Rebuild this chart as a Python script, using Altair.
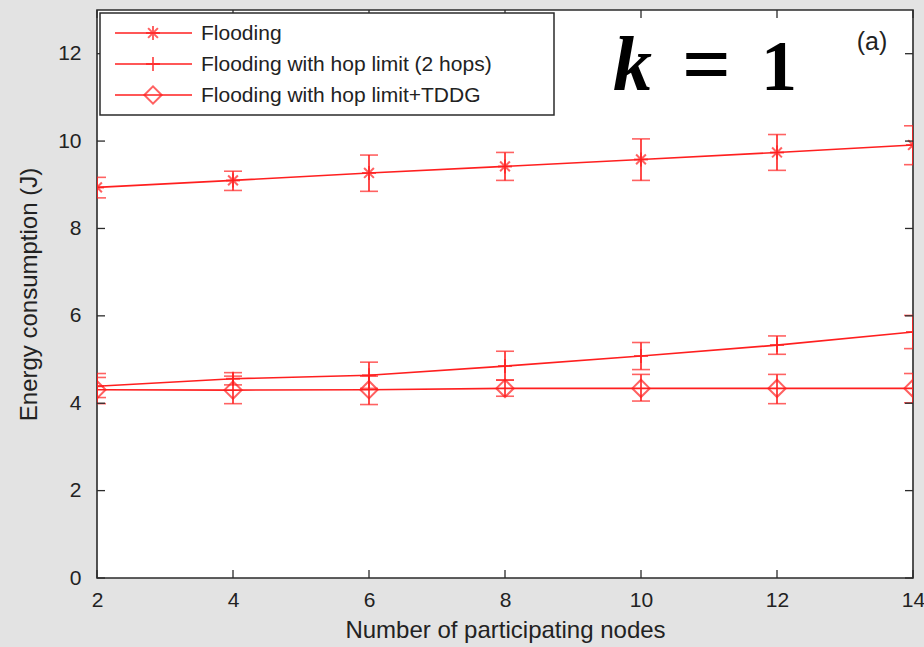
import altair as alt
import pandas as pd

# Number of participating nodes
nodes = [2, 4, 6, 8, 10, 12, 14]

# Energy consumption (J): mean with lower/upper error bounds
flood_mean = [8.94, 9.10, 9.27, 9.42, 9.58, 9.74, 9.91]
flood_low = [8.70, 8.87, 8.85, 9.10, 9.10, 9.33, 9.46]
flood_high = [9.17, 9.31, 9.68, 9.74, 10.05, 10.15, 10.35]

hop_mean = [4.39, 4.56, 4.64, 4.85, 5.08, 5.33, 5.63]
hop_low = [4.13, 4.42, 4.34, 4.53, 4.77, 5.12, 5.25]
hop_high = [4.68, 4.70, 4.94, 5.19, 5.39, 5.54, 6.01]

tddg_mean = [4.31, 4.30, 4.31, 4.34, 4.34, 4.34, 4.34]
tddg_low = [3.99, 3.99, 3.97, 4.16, 4.05, 3.99, 4.01]
tddg_high = [4.59, 4.62, 4.62, 4.53, 4.66, 4.66, 4.68]

series_names = [
    "Flooding",
    "Flooding with hop limit (2 hops)",
    "Flooding with hop limit+TDDG",
]

x_ticks = [2, 4, 6, 8, 10, 12, 14]
y_ticks = [0, 2, 4, 6, 8, 10, 12]

# ---- layout / style ----
W, H = 816, 568
RED = "#ff1f1f"
FRAME = "#2b2b2b"
FONT = "Liberation Sans"
ASTERISK = "M-1,0L1,0M0,-1L0,1M-0.7,-0.7L0.7,0.7M-0.7,0.7L0.7,-0.7"
PLUS = "M-1,0L1,0M0,-1L0,1"

frames = []
for name, m, lo, hi in [
    (series_names[0], flood_mean, flood_low, flood_high),
    (series_names[1], hop_mean, hop_low, hop_high),
    (series_names[2], tddg_mean, tddg_low, tddg_high),
]:
    frames.append(pd.DataFrame({"nodes": nodes, "series": name,
                                "mean": m, "low": lo, "high": hi}))
df = pd.concat(frames, ignore_index=True)

xscale = alt.Scale(domain=[2, 14], nice=False, zero=False)
yscale = alt.Scale(domain=[0, 13], nice=False)

X = alt.X("nodes:Q", scale=xscale,
          axis=alt.Axis(values=x_ticks, format="d", tickSize=0, domain=False,
                        grid=False, labelFlush=False, labelOverlap=False,
                        labelBound=False, labelPadding=11, labelFontSize=21,
                        labelFont=FONT, labelColor="#222",
                        title="Number of participating nodes", titleFont=FONT,
                        titleFontSize=24, titleFontWeight="normal",
                        titleColor="#222", titlePadding=8))
Y = alt.Y("mean:Q", scale=yscale,
          axis=alt.Axis(values=y_ticks, format="d", tickSize=0, domain=False,
                        grid=False, labelOverlap=False, labelBound=False,
                        labelPadding=16, labelFontSize=21, labelFont=FONT,
                        labelColor="#222", title="Energy consumption (J)",
                        titleFont=FONT, titleFontSize=24,
                        titleFontWeight="normal", titleColor="#222",
                        titlePadding=16))

base = alt.Chart(df)

lines = base.mark_line(color=RED, strokeWidth=1.6, clip=True).encode(
    x=X, y=Y, detail="series:N")

bars = base.mark_rule(color=RED, strokeWidth=1.6, clip=True).encode(
    x="nodes:Q", y=alt.Y("low:Q", scale=yscale), y2="high:Q")
caps_lo = base.mark_tick(color=RED, thickness=1.6, size=18, orient="horizontal",
                         clip=True).encode(x="nodes:Q", y=alt.Y("low:Q", scale=yscale))
caps_hi = base.mark_tick(color=RED, thickness=1.6, size=18, orient="horizontal",
                         clip=True).encode(x="nodes:Q", y=alt.Y("high:Q", scale=yscale))

def markers(name, shape, size):
    return alt.Chart(df[df.series == name]).mark_point(
        shape=shape, size=size, filled=False, color=RED, strokeWidth=2, clip=True
    ).encode(x="nodes:Q", y=alt.Y("mean:Q", scale=yscale))

m_flood = markers(series_names[0], ASTERISK, 196)
m_hop = markers(series_names[1], PLUS, 196)
m_tddg = markers(series_names[2], "diamond", 300)

# inward tick marks on all four sides of the box
xt = pd.DataFrame({"t": x_ticks})
yt = pd.DataFrame({"t": y_ticks})
tick_style = dict(color=FRAME, strokeWidth=1.3)
tx_bot = alt.Chart(xt).mark_rule(**tick_style).encode(
    x=alt.X("t:Q", scale=xscale), y=alt.value(H), y2=alt.value(H - 8))
tx_top = alt.Chart(xt).mark_rule(**tick_style).encode(
    x=alt.X("t:Q", scale=xscale), y=alt.value(0), y2=alt.value(8))
ty_left = alt.Chart(yt).mark_rule(**tick_style).encode(
    y=alt.Y("t:Q", scale=yscale), x=alt.value(0), x2=alt.value(8))
ty_right = alt.Chart(yt).mark_rule(**tick_style).encode(
    y=alt.Y("t:Q", scale=yscale), x=alt.value(W), x2=alt.value(W - 8))

# legend box
one = pd.DataFrame({"a": [0]})
legend_box = alt.Chart(one).mark_rect(fill="white", stroke=FRAME, strokeWidth=1.5).encode(
    x=alt.value(3), x2=alt.value(457), y=alt.value(3), y2=alt.value(105))

legend_layers = []
row_y = [23, 54, 85]
row_shapes = [(ASTERISK, 196), (PLUS, 196), ("diamond", 300)]
for name, ry, (shp, sz) in zip(series_names, row_y, row_shapes):
    src = alt.Chart(pd.DataFrame({"label": [name]}))
    legend_layers.append(src.mark_rule(color=RED, strokeWidth=1.6).encode(
        x=alt.value(18), x2=alt.value(95), y=alt.value(ry)))
    legend_layers.append(src.mark_point(shape=shp, size=sz, filled=False,
                                        color=RED, strokeWidth=2).encode(
        x=alt.value(56), y=alt.value(ry)))
    legend_layers.append(src.mark_text(align="left", baseline="middle", font=FONT,
                                       fontSize=21, color="#222").encode(
        x=alt.value(104), y=alt.value(ry + 1), text="label:N"))

# panel annotations
ann_k = alt.Chart(one).mark_text(text="k", font="Liberation Serif", fontSize=78,
                                 fontWeight="bold", fontStyle="italic",
                                 align="left", baseline="alphabetic",
                                 color="black").encode(x=alt.value(516), y=alt.value(80))
ann_eq = alt.Chart(one).mark_text(text="=", font="Liberation Serif", fontSize=86,
                                  fontWeight="bold", align="left",
                                  baseline="alphabetic",
                                  color="black").encode(x=alt.value(585), y=alt.value(83))
ann_1 = alt.Chart(one).mark_text(text="1", font="Liberation Serif", fontSize=72,
                                 fontWeight="bold", align="left",
                                 baseline="alphabetic",
                                 color="black").encode(x=alt.value(664), y=alt.value(80))
ann_a = alt.Chart(one).mark_text(text="(a)", font=FONT, fontSize=25,
                                 color="#222", align="center",
                                 baseline="middle").encode(x=alt.value(775), y=alt.value(32))

chart = alt.layer(
    lines, bars, caps_lo, caps_hi, m_flood, m_hop, m_tddg,
    tx_bot, tx_top, ty_left, ty_right,
    legend_box, *legend_layers,
    ann_k, ann_eq, ann_1, ann_a,
).properties(
    width=W, height=H,
    autosize=alt.AutoSizeParams(type="none"),
    padding={"left": 97, "top": 10, "right": 11, "bottom": 69},
    background="#e3e3e3",
).configure_view(
    fill="white", stroke=FRAME, strokeWidth=1.6
)

chart.save("out.html", embed_options={"renderer": "svg", "actions": False})
